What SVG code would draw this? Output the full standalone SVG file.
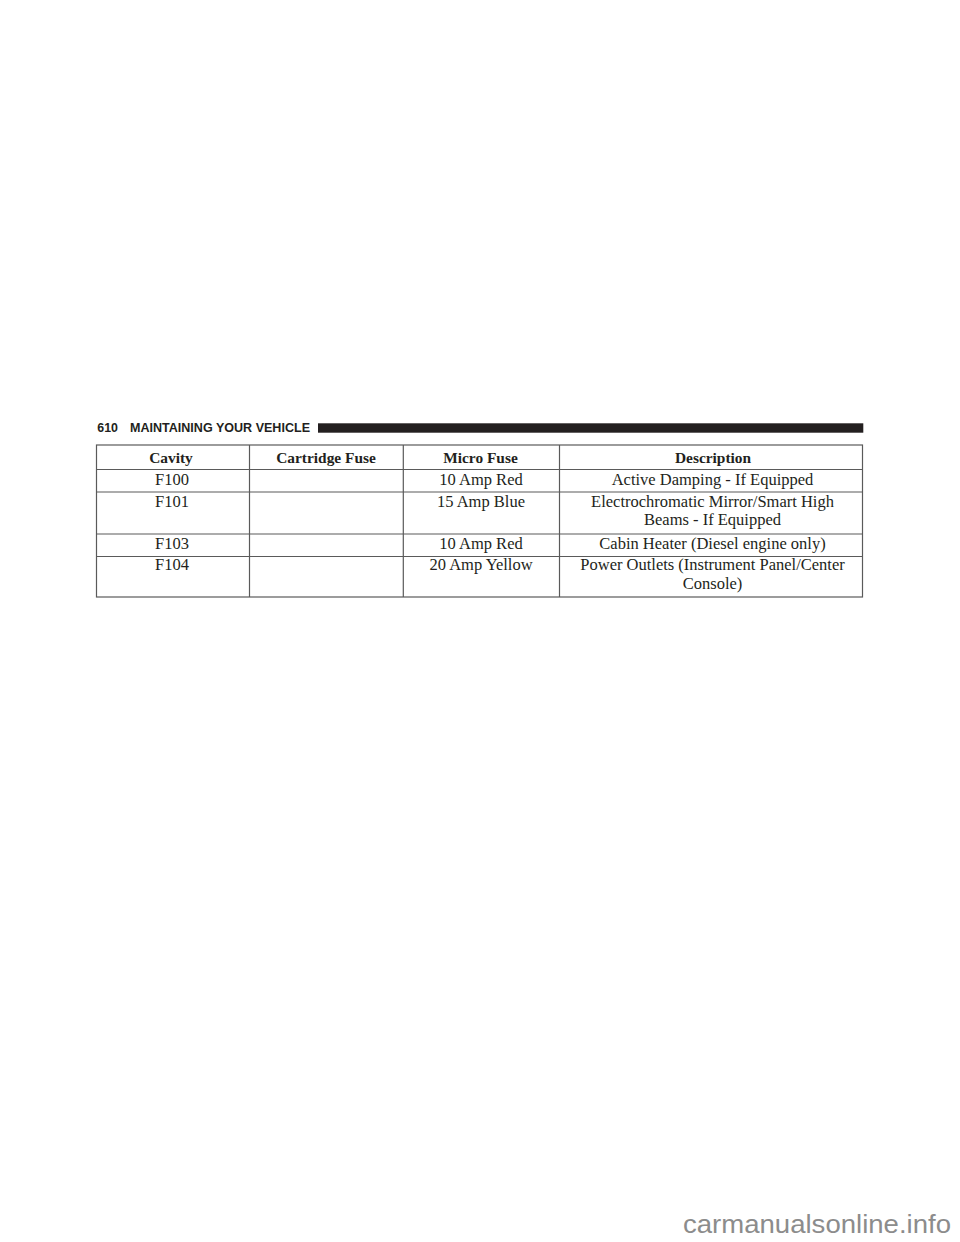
<svg xmlns="http://www.w3.org/2000/svg" width="960" height="1242" viewBox="0 0 960 1242">
<style>
.hd{font-family:"Liberation Sans",Arial,sans-serif;font-weight:bold;font-size:12.4px;fill:#231f20}
.th{font-family:"Liberation Serif","Times New Roman",serif;font-weight:bold;font-size:15.4px;fill:#231f20;text-anchor:middle}
.td{font-family:"Liberation Serif","Times New Roman",serif;font-size:16.5px;fill:#231f20;text-anchor:middle}
.ln{stroke:#5a5a5a;stroke-width:1.2;fill:none}
.wm{font-family:"Liberation Sans",Arial,sans-serif;font-size:25px;fill:#8c8c8c}
</style>
<rect width="960" height="1242" fill="#ffffff"/>
<g id="page-header">
<text class="hd" x="97.3" y="431.7">610</text>
<text class="hd" x="130" y="431.7" textLength="180" lengthAdjust="spacingAndGlyphs">MAINTAINING YOUR VEHICLE</text>
<rect x="318" y="423.3" width="545.3" height="9.4" fill="#231f20"/>
</g>
<g id="table-grid">
<rect class="ln" x="96.5" y="445" width="766" height="152"/>
<line class="ln" x1="96.5" y1="469.5" x2="862.5" y2="469.5"/>
<line class="ln" x1="96.5" y1="492" x2="862.5" y2="492"/>
<line class="ln" x1="96.5" y1="534" x2="862.5" y2="534"/>
<line class="ln" x1="96.5" y1="556.5" x2="862.5" y2="556.5"/>
<line class="ln" x1="249.5" y1="445" x2="249.5" y2="597"/>
<line class="ln" x1="403.3" y1="445" x2="403.3" y2="597"/>
<line class="ln" x1="559.5" y1="445" x2="559.5" y2="597"/>
</g>
<g id="header-row">
<text class="th" x="171" y="462.5">Cavity</text>
<text class="th" x="326" y="462.5">Cartridge Fuse</text>
<text class="th" x="480.5" y="462.5">Micro Fuse</text>
<text class="th" x="713" y="462.5">Description</text>
</g>
<g id="row-f100">
<text class="td" x="172" y="485">F100</text>
<text class="td" x="481" y="485">10 Amp Red</text>
<text class="td" x="712.5" y="485">Active Damping - If Equipped</text>
</g>
<g id="row-f101">
<text class="td" x="172" y="506.7">F101</text>
<text class="td" x="481" y="506.7">15 Amp Blue</text>
<text class="td" x="712.5" y="506.7">Electrochromatic Mirror/Smart High</text>
<text class="td" x="712.5" y="525.2">Beams - If Equipped</text>
</g>
<g id="row-f103">
<text class="td" x="172" y="549">F103</text>
<text class="td" x="481" y="549">10 Amp Red</text>
<text class="td" x="712.5" y="549">Cabin Heater (Diesel engine only)</text>
</g>
<g id="row-f104">
<text class="td" x="172" y="570.3">F104</text>
<text class="td" x="481" y="570.3">20 Amp Yellow</text>
<text class="td" x="712.5" y="570.3">Power Outlets (Instrument Panel/Center</text>
<text class="td" x="712.5" y="588.8">Console)</text>
</g>
<g id="watermark">
<text class="wm" x="683" y="1233" textLength="268" lengthAdjust="spacingAndGlyphs">carmanualsonline.info</text>
</g>
</svg>
